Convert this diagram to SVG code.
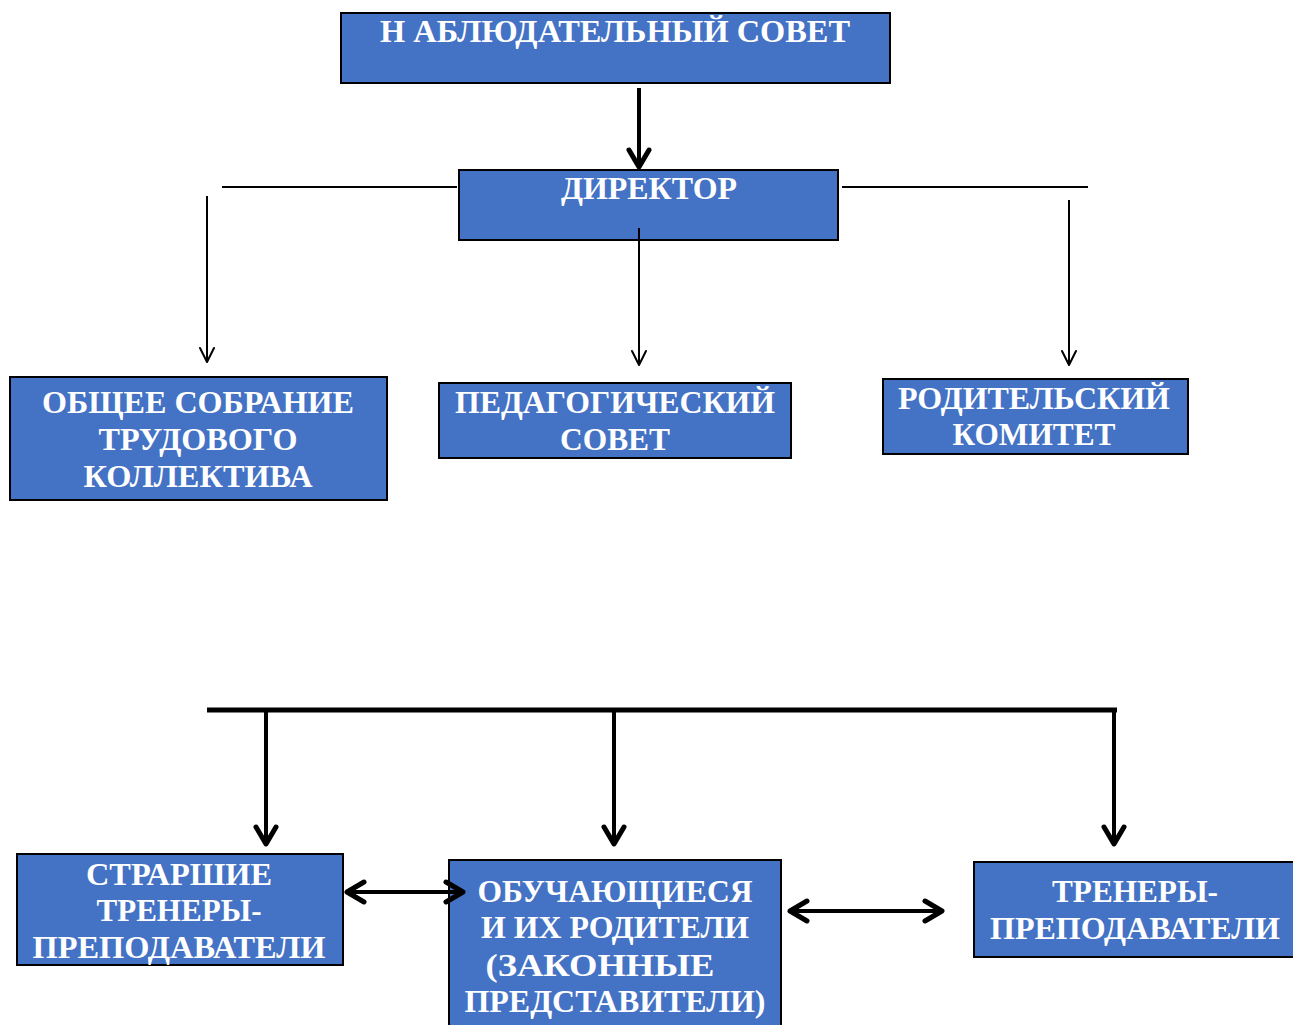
<svg xmlns="http://www.w3.org/2000/svg" width="1293" height="1025" viewBox="0 0 1293 1025">
<style>
.box{fill:#4472C4;stroke:#000;stroke-width:2}
.t{font-family:"Liberation Serif","Times New Roman",serif;font-weight:bold;fill:#fff;font-size:31px;text-anchor:middle}
.thin{stroke:#000;stroke-width:2;fill:none}
.thick{stroke:#000;stroke-width:4;fill:none}
.bar{stroke:#000;stroke-width:5;fill:none}
</style>
<defs>
<marker id="vThin" markerUnits="userSpaceOnUse" viewBox="-20 -12 24 24" markerWidth="24" markerHeight="24" refX="0" refY="0" orient="auto">
<path d="M-14,-7 L0,0 L-14,7" fill="none" stroke="#000" stroke-width="2" stroke-linecap="round" stroke-linejoin="round"/>
</marker>
<marker id="vThick" markerUnits="userSpaceOnUse" viewBox="-22 -14 28 28" markerWidth="28" markerHeight="28" refX="0" refY="0" orient="auto-start-reverse">
<path d="M-17,-10 L0,0 L-17,10" fill="none" stroke="#000" stroke-width="5" stroke-linecap="round" stroke-linejoin="round"/>
</marker>
</defs>
<g id="nablyud">
<rect class="box" x="341" y="13" width="549" height="70"/>
<text class="t" x="615" y="42" textLength="470" lengthAdjust="spacingAndGlyphs">Н АБЛЮДАТЕЛЬНЫЙ СОВЕТ</text>
</g>
<g id="direktor">
<rect class="box" x="459" y="170" width="379" height="70"/>
<text class="t" x="649" y="199" textLength="176" lengthAdjust="spacingAndGlyphs">ДИРЕКТОР</text>
</g>
<g id="obshchee">
<rect class="box" x="10" y="377" width="377" height="123"/>
<text class="t" x="198" y="413" textLength="312" lengthAdjust="spacingAndGlyphs">ОБЩЕЕ СОБРАНИЕ</text>
<text class="t" x="198" y="450" textLength="199" lengthAdjust="spacingAndGlyphs">ТРУДОВОГО</text>
<text class="t" x="198" y="487" textLength="229" lengthAdjust="spacingAndGlyphs">КОЛЛЕКТИВА</text>
</g>
<g id="pedsovet">
<rect class="box" x="439" y="383" width="352" height="75"/>
<text class="t" x="615" y="413" textLength="320" lengthAdjust="spacingAndGlyphs">ПЕДАГОГИЧЕСКИЙ</text>
<text class="t" x="615" y="450" textLength="110" lengthAdjust="spacingAndGlyphs">СОВЕТ</text>
</g>
<g id="roditkom">
<rect class="box" x="883" y="379" width="305" height="75"/>
<text class="t" x="1034" y="409" textLength="272" lengthAdjust="spacingAndGlyphs">РОДИТЕЛЬСКИЙ</text>
<text class="t" x="1034" y="445" textLength="163" lengthAdjust="spacingAndGlyphs">КОМИТЕТ</text>
</g>
<g id="starshie">
<rect class="box" x="17" y="854" width="326" height="111"/>
<text class="t" x="179" y="885" textLength="186" lengthAdjust="spacingAndGlyphs">СТРАРШИЕ</text>
<text class="t" x="179" y="921" textLength="165" lengthAdjust="spacingAndGlyphs">ТРЕНЕРЫ-</text>
<text class="t" x="179" y="958" textLength="293" lengthAdjust="spacingAndGlyphs">ПРЕПОДАВАТЕЛИ</text>
</g>
<g id="obuchayushchiesya">
<rect class="box" x="449" y="860" width="332" height="170"/>
<text class="t" x="615" y="902" textLength="275" lengthAdjust="spacingAndGlyphs">ОБУЧАЮЩИЕСЯ</text>
<text class="t" x="615" y="938" textLength="268" lengthAdjust="spacingAndGlyphs">И ИХ РОДИТЕЛИ</text>
<text class="t" x="600" y="976" textLength="229" lengthAdjust="spacingAndGlyphs">(ЗАКОННЫЕ</text>
<text class="t" x="615" y="1012" textLength="301" lengthAdjust="spacingAndGlyphs">ПРЕДСТАВИТЕЛИ)</text>
</g>
<g id="trenery">
<rect class="box" x="974" y="862" width="320" height="95"/>
<text class="t" x="1135" y="902" textLength="166" lengthAdjust="spacingAndGlyphs">ТРЕНЕРЫ-</text>
<text class="t" x="1135" y="939" textLength="290" lengthAdjust="spacingAndGlyphs">ПРЕПОДАВАТЕЛИ</text>
</g>
<g id="connectors">
<line class="thick" x1="639" y1="88" x2="639" y2="167" marker-end="url(#vThick)"/>
<line class="thin" x1="222" y1="187" x2="457" y2="187"/>
<line class="thin" x1="842" y1="187" x2="1088" y2="187"/>
<line class="thin" x1="207" y1="196" x2="207" y2="362" marker-end="url(#vThin)"/>
<line class="thin" x1="639" y1="228" x2="639" y2="365" marker-end="url(#vThin)"/>
<line class="thin" x1="1069" y1="200" x2="1069" y2="365" marker-end="url(#vThin)"/>
<line class="bar" x1="207" y1="710" x2="1117" y2="710"/>
<line class="thick" x1="266" y1="710" x2="266" y2="844" marker-end="url(#vThick)"/>
<line class="thick" x1="614" y1="710" x2="614" y2="844" marker-end="url(#vThick)"/>
<line class="thick" x1="1114" y1="710" x2="1114" y2="844" marker-end="url(#vThick)"/>
<line class="thick" x1="347" y1="892" x2="463" y2="892" marker-start="url(#vThick)" marker-end="url(#vThick)"/>
<line class="thick" x1="790" y1="911" x2="942" y2="911" marker-start="url(#vThick)" marker-end="url(#vThick)"/>
</g>
</svg>
